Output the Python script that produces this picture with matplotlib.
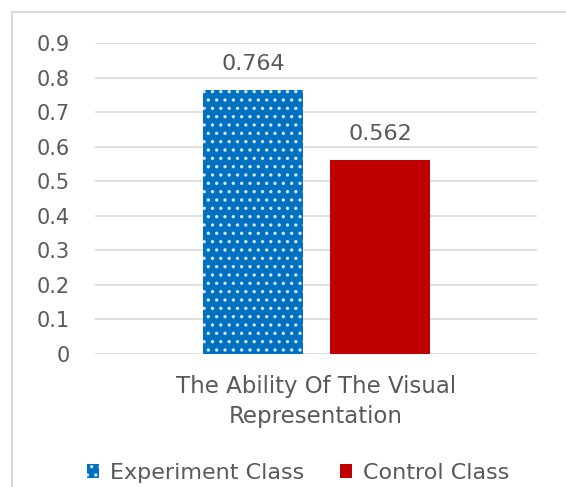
import matplotlib.pyplot as plt
from matplotlib.patches import Rectangle

# Data
category = "The Ability Of The Visual\nRepresentation"
series = ["Experiment Class", "Control Class"]
values = [0.764, 0.562]
colors = ["#0070C0", "#C00000"]
yticks = [0, 0.1, 0.2, 0.3, 0.4, 0.5, 0.6, 0.7, 0.8, 0.9]

plt.rcParams['font.family'] = ['DejaVu Sans']
plt.rcParams['hatch.linewidth'] = 1.2
text_col = "#595959"
grid_col = "#D9D9D9"

fig = plt.figure(figsize=(5.66, 4.87), dpi=100)
ax = fig.add_axes([95 / 566, 1 - 354 / 487, 442 / 566, (354 - 43) / 487])

# outer chart frame (cut off at right/bottom like the reference)
fig.patches.append(Rectangle((12 / 566, -0.1), 1.2, 1 - 12 / 487 + 0.1,
                             transform=fig.transFigure, fill=False,
                             edgecolor=grid_col, linewidth=1.5))

width = 0.226
offsets = [-0.1425, 0.145]
for i, (name, v) in enumerate(zip(series, values)):
    if i == 0:
        ax.bar(offsets[i], v, width, color=colors[i], edgecolor="#D5E6F5",
               hatch="..", linewidth=0, label=name, zorder=3)
    else:
        ax.bar(offsets[i], v, width, color=colors[i], linewidth=0,
               label=name, zorder=3)
    ax.text(offsets[i], v + 0.045, f"{v:.3f}", ha="center", va="bottom",
            fontsize=16, color=text_col)

ax.set_xlim(-0.5, 0.5)
ax.set_ylim(0, 0.9)
ax.set_yticks(yticks)
ax.set_yticklabels([f"{t:g}" for t in yticks])
ax.set_xticks([0])
ax.set_xticklabels([category], linespacing=1.42)
ax.tick_params(axis="both", length=0, colors=text_col)
ax.tick_params(axis="y", pad=18, labelsize=15)
ax.tick_params(axis="x", pad=15, labelsize=16.5)
ax.yaxis.grid(True, color=grid_col, linewidth=1.2)
ax.set_axisbelow(True)
for s in ax.spines.values():
    s.set_visible(False)

fig.legend(loc="center", bbox_to_anchor=(298 / 566, 1 - 473 / 487), ncol=2,
           frameon=False, fontsize=16, handlelength=0.55, handleheight=0.55,
           handletextpad=0.5, columnspacing=1.6, labelcolor=text_col)

fig.savefig("out.png", dpi=100)
